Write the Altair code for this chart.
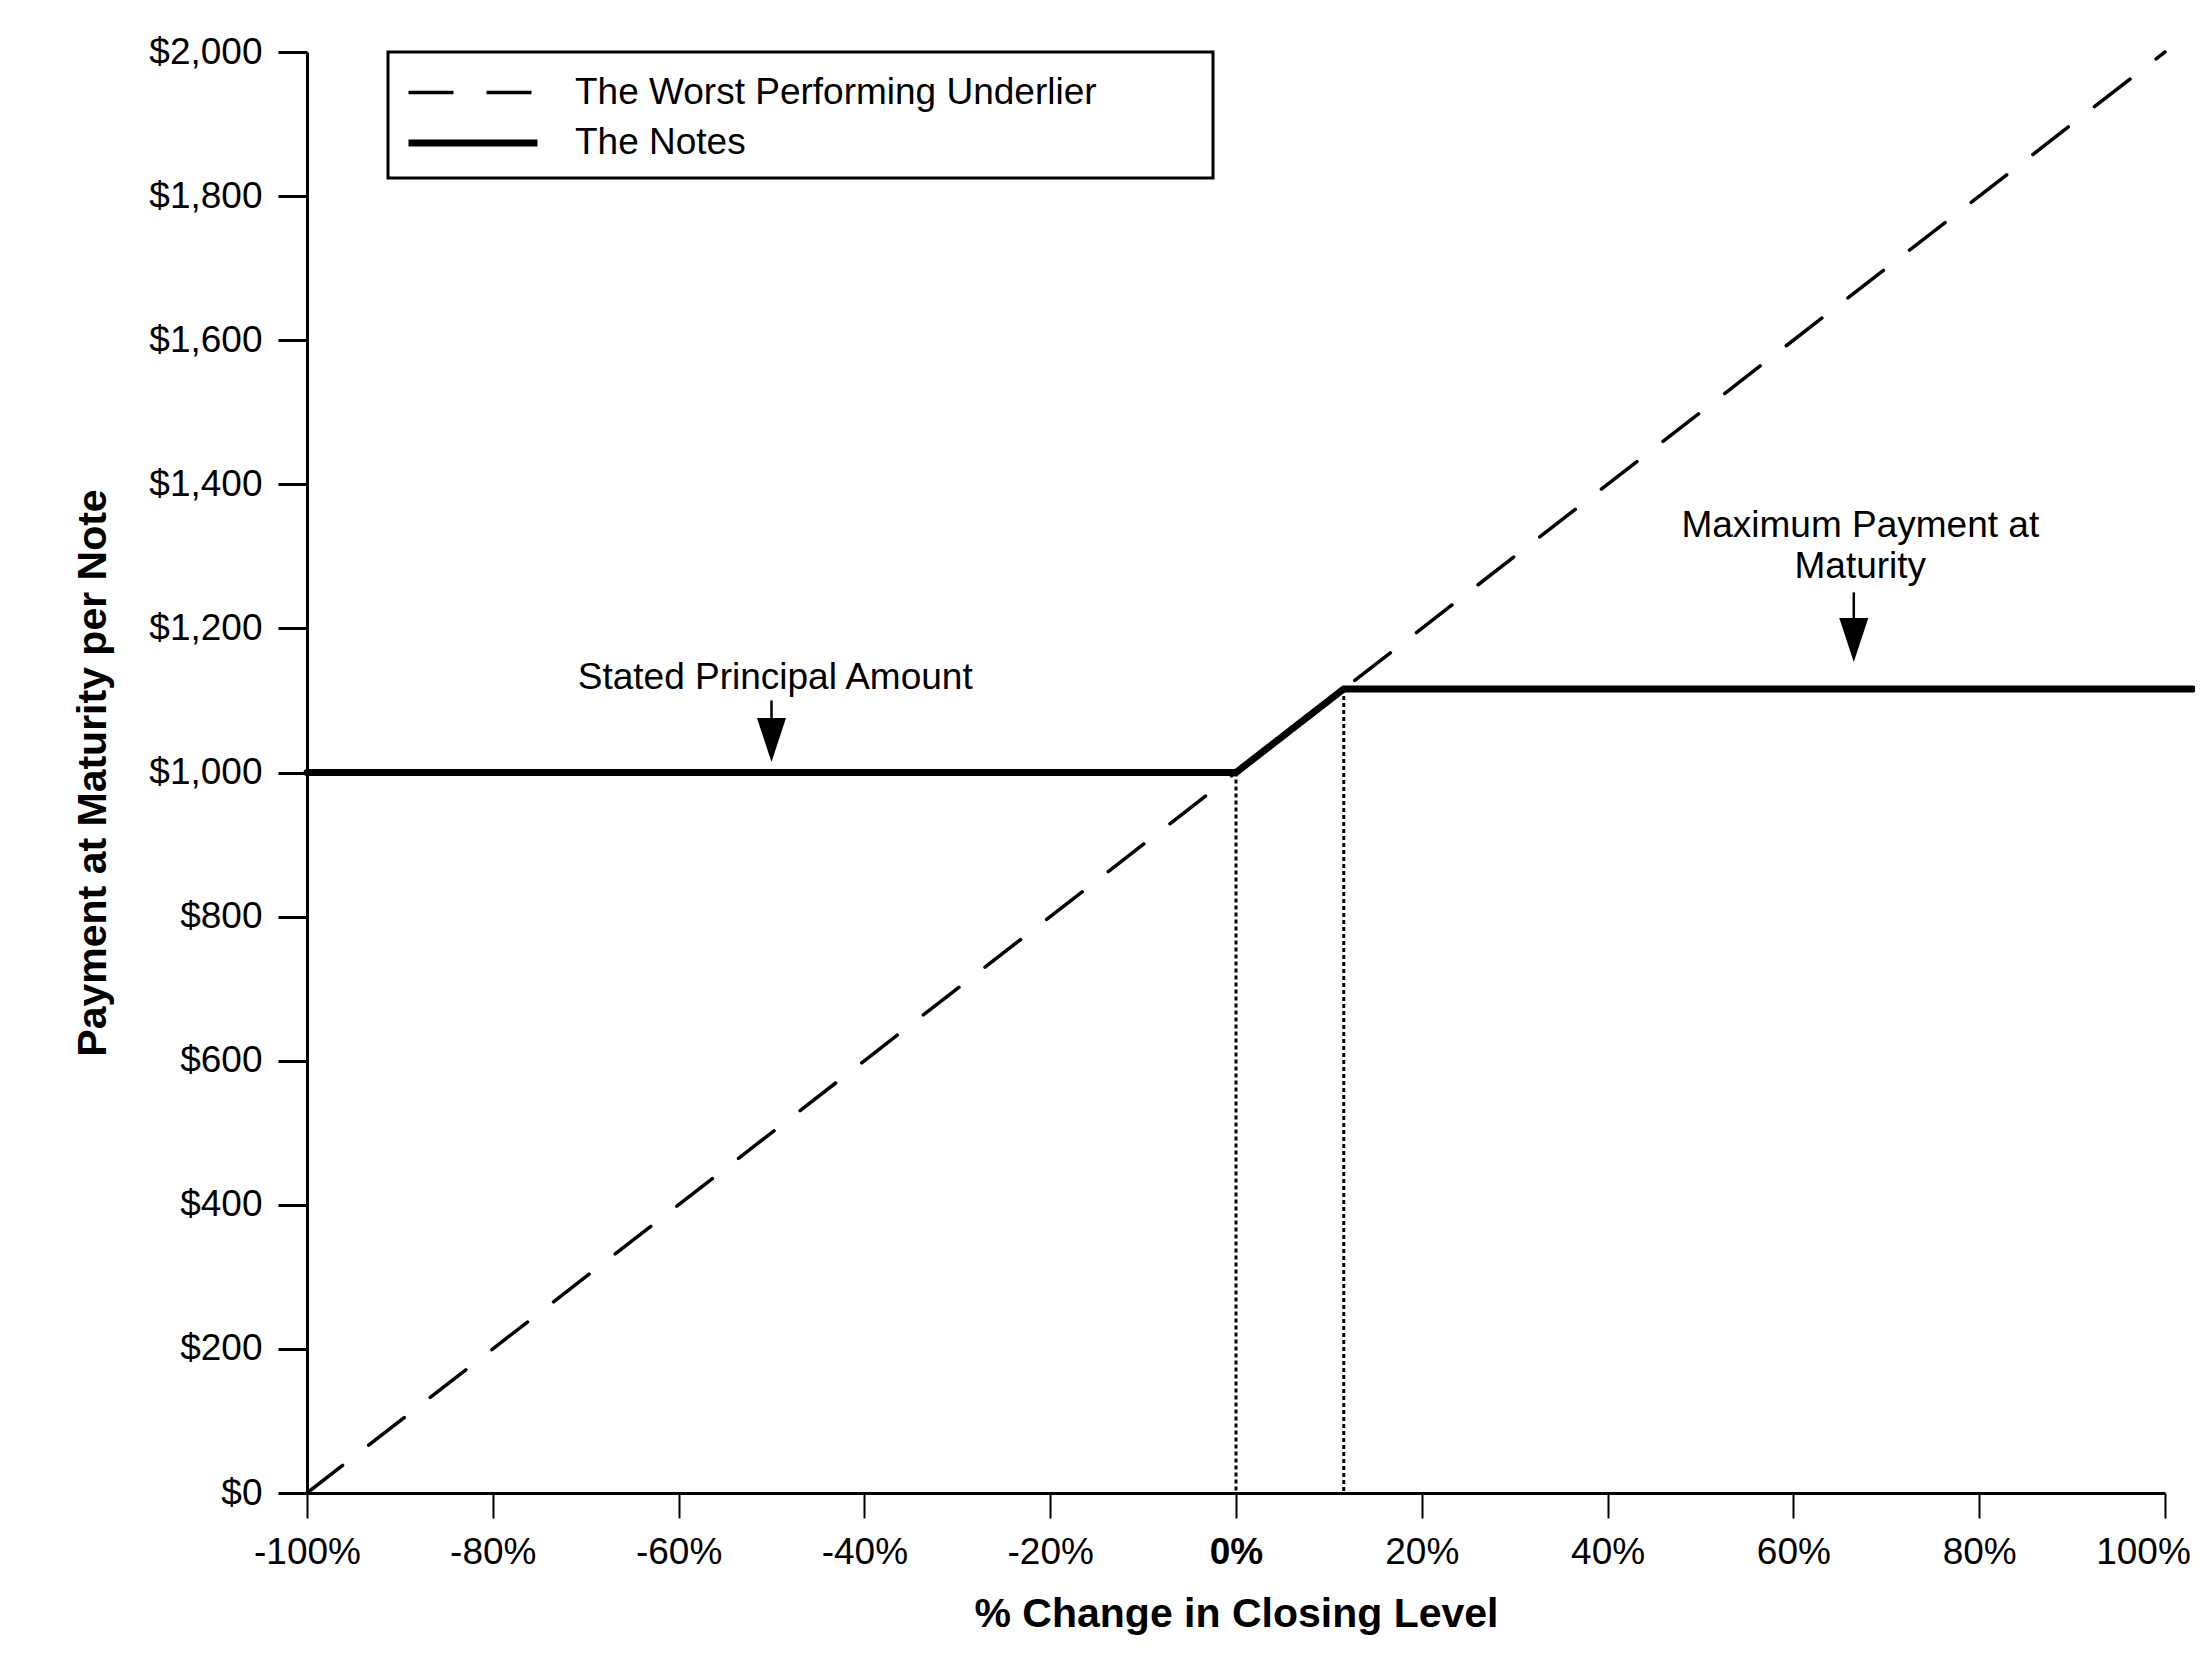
import altair as alt
import pandas as pd

# ---- data ----
series_names = ["The Worst Performing Underlier", "The Notes"]
under_x = [-100, 100]
under_y = [0, 2000]
notes_x = [-100, 0, 11.6, 103]
notes_y = [1000, 1000, 1116, 1116]

guide_x = [0, 11.6]
guide_y = [1000, 1116]

x_ticks = [-100, -80, -60, -40, -20, 0, 20, 40, 60, 80, 100]
y_ticks = [0, 200, 400, 600, 800, 1000, 1200, 1400, 1600, 1800, 2000]

ann_labels = ["Stated Principal Amount", "Maximum Payment at", "Maturity"]
ann_x = [-49.6, 67.2, 67.2]
ann_y = [1116, 1327, 1270]

arrow_x = [-50, 66.5]
arrow_top = [1100, 1250]
arrow_head = [1045, 1184]

FONT = "Liberation Sans"

lines = pd.DataFrame({
    "x": under_x + notes_x,
    "y": under_y + notes_y,
    "series": [series_names[0]] * len(under_x) + [series_names[1]] * len(notes_x),
    "order": list(range(len(under_x))) + list(range(len(notes_x))),
})
guides = pd.DataFrame({"x": guide_x, "y": guide_y})
anns = pd.DataFrame({"x": ann_x, "y": ann_y, "label": ann_labels})
arrows = pd.DataFrame({"x": arrow_x, "top": arrow_top, "head": arrow_head})

xs = alt.Scale(domain=[-100, 100], nice=False, zero=False)
ys = alt.Scale(domain=[0, 2000], nice=False)

legend = alt.Legend(
    title=" ",
    titleOrient="right",
    titleFontSize=1,
    titlePadding=99,
    orient="none",
    legendX=81,
    legendY=0,
    padding=17,
    strokeColor="black",
    fillColor="white",
    labelFont=FONT,
    labelFontSize=37,
    labelColor="black",
    labelLimit=2000,
    labelOffset=77,
    rowPadding=7,
    symbolType="M-3,0L3,0",
    symbolSize=1849,
    symbolOffset=43,
    symbolStrokeColor="black",
)

x_axis = alt.Axis(
    values=x_ticks,
    labelExpr="datum.value + '%'",
    labelFlush=False,
    labelOffset={"expr": "datum.value == 100 ? -22 : 0"},
    title="% Change in Closing Level",
    tickSize=25,
    tickWidth=2,
    labelPadding=16,
    labelFontSize=37,
    labelFontWeight={"expr": "datum.value == 0 ? 'bold' : 'normal'"},
    titleFontSize=41,
    titleFontWeight="bold",
    titlePadding=24,
)
y_axis = alt.Axis(
    values=y_ticks,
    format="$,.0f",
    title="Payment at Maturity per Note",
    tickSize=29,
    tickWidth=3,
    labelPadding=16,
    labelFontSize=37,
    titleFontSize=41,
    titleFontWeight="bold",
    titlePadding=34,
)

line_layer = alt.Chart(lines).mark_line(color="black", strokeCap="round", clip=False).encode(
    x=alt.X("x:Q", scale=xs, axis=x_axis),
    y=alt.Y("y:Q", scale=ys, axis=y_axis),
    strokeDash=alt.StrokeDash(
        "series:N",
        scale=alt.Scale(domain=series_names, range=[[45, 33], [1, 0]]),
        legend=legend,
    ),
    strokeWidth=alt.StrokeWidth(
        "series:N",
        scale=alt.Scale(type="ordinal", domain=series_names, range=[3.5, 7]),
        legend=legend,
    ),
    order="order:Q",
)

guide_layer = alt.Chart(guides).mark_rule(color="black", strokeWidth=3, strokeDash=[4, 3]).encode(
    x="x:Q",
    y="y:Q",
    y2=alt.datum(0),
)

arrow_stem = alt.Chart(arrows).mark_rule(color="black", strokeWidth=2.5).encode(
    x="x:Q",
    y="top:Q",
    y2="head:Q",
)
arrow_tip = alt.Chart(arrows).mark_point(
    shape="M-0.66,-1L0.66,-1L0,1Z", filled=True, size=1936, color="black", opacity=1, strokeWidth=0
).encode(
    x="x:Q",
    y="head:Q",
)

text_layer = alt.Chart(anns).mark_text(
    font=FONT, fontSize=37, align="center", baseline="alphabetic", color="black"
).encode(
    x="x:Q",
    y="y:Q",
    text="label:N",
)

chart = alt.layer(guide_layer, line_layer, arrow_stem, arrow_tip, text_layer).properties(
    width=1858,
    height=1441,
    padding={"left": 299, "top": 44, "right": 30, "bottom": 150},
    autosize=alt.AutoSizeParams(type="none"),
    background="white",
).configure_view(stroke=None).configure_axis(
    grid=False,
    domainColor="black",
    domainWidth=3,
    tickColor="black",
    labelColor="black",
    titleColor="black",
    labelFont=FONT,
    titleFont=FONT,
).configure_legend(strokeWidth=3)

chart.save("out.html", embed_options={"renderer": "svg", "actions": False})
